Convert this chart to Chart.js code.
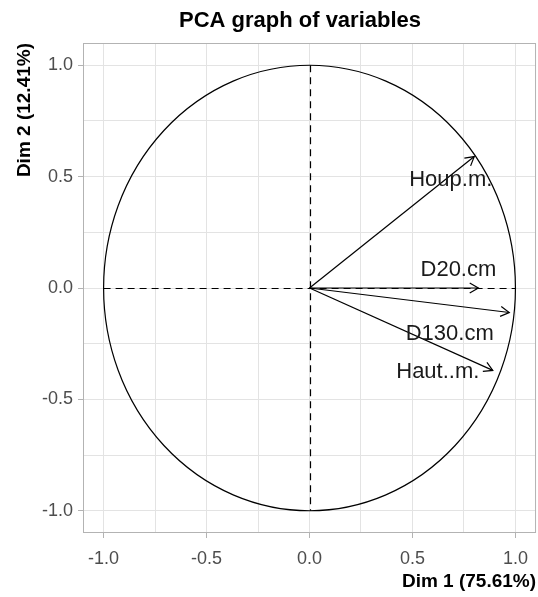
<!DOCTYPE html>
<html>
<head>
<meta charset="utf-8">
<script src="https://cdn.jsdelivr.net/npm/chart.js@4.4.1/dist/chart.umd.min.js"></script>
<style>
  html, body { margin: 0; padding: 0; background: #fff; }
</style>
</head>
<body>
<canvas id="pcaChart" width="538" height="597"></canvas>
<script>
// variable coordinates on the first two dimensions
const variableNames = ['Houp.m.', 'D20.cm', 'D130.cm', 'Haut..m.'];
const dim1Coords = [0.80, 0.82, 0.97, 0.89];
const dim2Coords = [0.59, 0.00, -0.11, -0.37];

// where each label sits (repelled from the arrow tips), in data units
const labelDim1 = [0.686, 0.723, 0.681, 0.623];
const labelDim2 = [0.486, 0.083, -0.208, -0.376];

const majorTicks = [-1.0, -0.5, 0.0, 0.5, 1.0];
const minorTicks = [-0.75, -0.25, 0.25, 0.75];
const axisMin = -1.1;
const axisMax = 1.1;

const chartTitle = 'PCA graph of variables';
const xTitle = 'Dim 1 (75.61%)';
const yTitle = 'Dim 2 (12.41%)';

const FONT = '"Liberation Sans", Arial, sans-serif';

function isMajor(v) {
    return majorTicks.some(m => Math.abs(m - v) < 1e-9);
}

// Build one arrow dataset per variable (origin -> coordinates)
const datasets = variableNames.map((name, i) => ({
    label: name,
    data: [{ x: 0, y: 0 }, { x: dim1Coords[i], y: dim2Coords[i] }],
    showLine: true,
    borderColor: '#000',
    borderWidth: 1.2,
    pointRadius: 0,
    fill: false
}));

// Circle, dashed axes, border, arrow heads, labels and title
const pcaDecor = {
    id: 'pcaDecor',
    beforeDatasetsDraw(chart) {
        const { ctx, chartArea, scales: { x, y } } = chart;
        const cx = x.getPixelForValue(0);
        const cy = y.getPixelForValue(0);
        const rx = x.getPixelForValue(1) - cx;
        const ry = cy - y.getPixelForValue(1);

        ctx.save();
        // panel border
        ctx.strokeStyle = '#b3b3b3';
        ctx.lineWidth = 1;
        ctx.strokeRect(chartArea.left + 0.5, chartArea.top + 0.5,
            chartArea.right - chartArea.left - 1, chartArea.bottom - chartArea.top - 1);

        // correlation circle
        ctx.strokeStyle = '#000';
        ctx.lineWidth = 1.2;
        ctx.beginPath();
        ctx.ellipse(cx, cy, rx, ry, 0, 0, Math.PI * 2);
        ctx.stroke();

        // dashed reference axes (snapped to the pixel grid so they stay crisp)
        const sx = Math.round(cx) + 0.5;
        const sy = Math.round(cy) + 0.5;
        ctx.setLineDash([7, 5]);
        ctx.lineWidth = 1.2;
        ctx.beginPath();
        ctx.moveTo(x.getPixelForValue(-1), sy);
        ctx.lineTo(x.getPixelForValue(1), sy);
        ctx.moveTo(sx, y.getPixelForValue(1));
        ctx.lineTo(sx, y.getPixelForValue(-1));
        ctx.stroke();
        ctx.restore();
    },
    afterDatasetsDraw(chart) {
        const { ctx, scales: { x, y } } = chart;
        const ox = x.getPixelForValue(0);
        const oy = y.getPixelForValue(0);
        const headLen = 10;
        const spread = Math.PI / 6;

        ctx.save();
        ctx.strokeStyle = '#000';
        ctx.lineWidth = 1.2;
        dim1Coords.forEach((d1, i) => {
            const tx = x.getPixelForValue(d1);
            const ty = y.getPixelForValue(dim2Coords[i]);
            const ang = Math.atan2(ty - oy, tx - ox);
            ctx.beginPath();
            ctx.moveTo(tx - headLen * Math.cos(ang - spread), ty - headLen * Math.sin(ang - spread));
            ctx.lineTo(tx, ty);
            ctx.lineTo(tx - headLen * Math.cos(ang + spread), ty - headLen * Math.sin(ang + spread));
            ctx.stroke();
        });

        ctx.fillStyle = '#1a1a1a';
        ctx.font = '22px ' + FONT;
        ctx.textAlign = 'center';
        ctx.textBaseline = 'middle';
        variableNames.forEach((name, i) => {
            ctx.fillText(name, x.getPixelForValue(labelDim1[i]), y.getPixelForValue(labelDim2[i]));
        });
        ctx.restore();
    },
    afterDraw(chart) {
        const { ctx } = chart;
        ctx.save();
        ctx.fillStyle = '#000';
        ctx.font = 'bold 22px ' + FONT;
        ctx.textAlign = 'center';
        ctx.textBaseline = 'alphabetic';
        ctx.fillText(chartTitle, 300, 27);
        ctx.restore();
    }
};

function gridOptions() {
    return {
        color: '#e3e3e3',
        lineWidth: 1,
        drawTicks: true,
        tickLength: 5,
        tickColor: ctx => (ctx.tick && isMajor(ctx.tick.value)) ? '#b3b3b3' : 'rgba(0,0,0,0)'
    };
}

const allTicks = minorTicks.concat(majorTicks).sort((a, b) => a - b);

new Chart(document.getElementById('pcaChart').getContext('2d'), {
    type: 'scatter',
    data: { datasets: datasets },
    options: {
        responsive: false,
        devicePixelRatio: 1,
        animation: false,
        layout: { padding: { top: 43, right: 1, bottom: 0, left: 0 } },
        plugins: {
            legend: { display: false },
            tooltip: { enabled: false },
            title: { display: false }
        },
        scales: {
            x: {
                type: 'linear',
                min: axisMin,
                max: axisMax,
                afterBuildTicks: scale => { scale.ticks = allTicks.map(v => ({ value: v })); },
                afterFit: scale => { scale.height = 64; },
                grid: gridOptions(),
                border: { display: false },
                ticks: {
                    autoSkip: false,
                    maxRotation: 0,
                    padding: 10,
                    color: '#4d4d4d',
                    font: { family: FONT, size: 18 },
                    callback: v => isMajor(v) ? v.toFixed(1) : ''
                },
                title: {
                    display: true,
                    text: xTitle,
                    align: 'end',
                    color: '#000',
                    font: { family: FONT, size: 19, weight: 'bold' },
                    padding: { top: 0, bottom: 4 }
                }
            },
            y: {
                type: 'linear',
                min: axisMin,
                max: axisMax,
                afterBuildTicks: scale => { scale.ticks = allTicks.map(v => ({ value: v })); },
                afterFit: scale => { scale.width = 83; },
                grid: gridOptions(),
                border: { display: false },
                ticks: {
                    autoSkip: false,
                    padding: 5,
                    color: '#4d4d4d',
                    font: { family: FONT, size: 18 },
                    callback: v => isMajor(v) ? v.toFixed(1) : ''
                },
                title: {
                    display: true,
                    text: yTitle,
                    align: 'end',
                    color: '#000',
                    font: { family: FONT, size: 19, weight: 'bold' },
                    padding: { top: 13, bottom: 0 }
                }
            }
        }
    },
    plugins: [pcaDecor]
});
</script>
</body>
</html>
